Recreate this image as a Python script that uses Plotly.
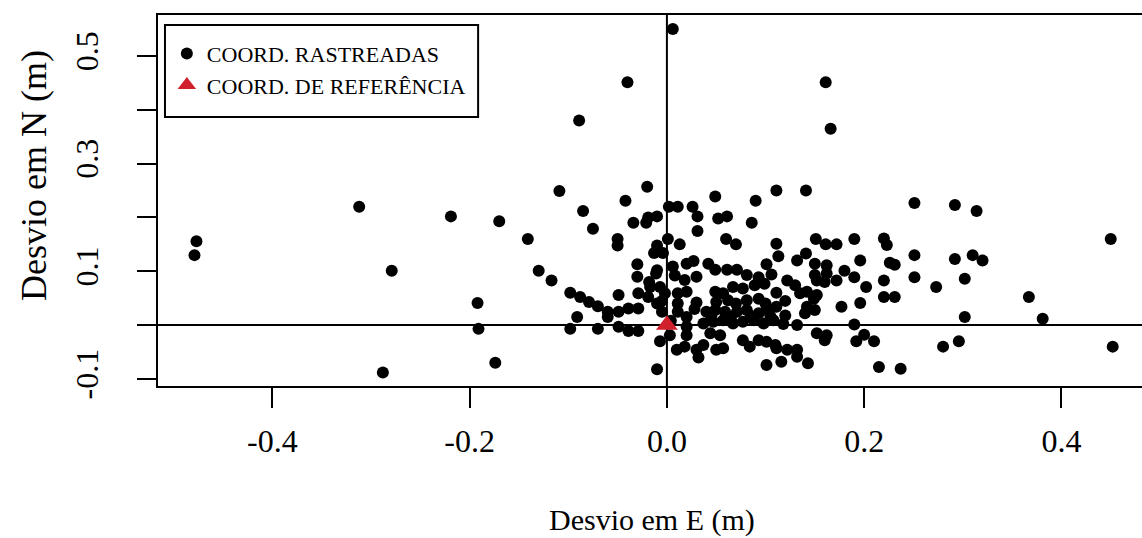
import plotly.graph_objects as go

# ---- data: deviations (m) ----
desvio_e = [
    -0.477, -0.479, -0.312, -0.219, -0.170, -0.141, -0.130, -0.279, -0.192, -0.191, -0.174, -0.288, -0.117,
    0.006, -0.040, -0.089, 0.161, 0.166,
    -0.109, -0.020, -0.042, -0.085, 0.002, 0.011, 0.026, -0.034, -0.021, -0.019, -0.010, 0.031, -0.075, 0.031,
    -0.050, -0.050, 0.001, 0.013, -0.010, -0.013, -0.004, -0.030, -0.010, 0.006, 0.020, 0.027,
    -0.030, -0.018, -0.011, 0.008, 0.018, 0.030,
    -0.017, -0.007, -0.029, -0.002, 0.011, 0.020, -0.049,
    -0.098, -0.088, -0.079, -0.070, -0.060, -0.060, -0.049, -0.039, -0.029, -0.091,
    -0.098, -0.070, -0.049, -0.039, -0.029,
    -0.010, -0.005, 0.011, 0.011, 0.020, 0.020, 0.020, -0.007, 0.003, 0.010, 0.018, 0.030, 0.032, -0.010, 0.028,
    0.004, -0.005, -0.019, 0.030,
    0.049, 0.111, 0.141, 0.090, 0.052, 0.061, 0.086, 0.060, 0.070, 0.111, 0.113, 0.151, 0.161, 0.172, 0.141,
    0.132, 0.150, 0.162, 0.101, 0.042, 0.049, 0.061, 0.071,
    0.081, 0.093, 0.106, 0.122, 0.150, 0.162,
    0.049, 0.057, 0.067, 0.077, 0.089, 0.099, 0.111, 0.130, 0.135, 0.142, 0.152,
    0.050, 0.062, 0.081, 0.093,
    0.040, 0.049, 0.059, 0.071, 0.081, 0.093, 0.101, 0.111, 0.142, 0.150, 0.140,
    0.037, 0.047, 0.057, 0.067, 0.077, 0.088, 0.098, 0.108, 0.118, 0.132,
    0.044, 0.054, 0.152, 0.162, 0.160,
    0.037, 0.077, 0.084, 0.093, 0.101, 0.110, 0.111, 0.050, 0.057, 0.122, 0.132,
    0.132, 0.116, 0.101, 0.143,
    0.160, 0.172, 0.149, 0.152,
    0.045, 0.065, 0.085, 0.105, 0.120, 0.070, 0.100, 0.120,
    0.251, 0.292, 0.314, 0.450, 0.190, 0.220, 0.223, 0.196, 0.226, 0.231, 0.251, 0.292, 0.310, 0.320,
    0.180, 0.190, 0.220, 0.251, 0.302, 0.273, 0.202, 0.220, 0.231, 0.196, 0.177, 0.367, 0.381, 0.302,
    0.190, 0.200, 0.192, 0.210, 0.280, 0.296, 0.452, 0.215, 0.237,
]
desvio_n = [
    0.156, 0.130, 0.220, 0.202, 0.193, 0.160, 0.101, 0.101, 0.041, -0.007, -0.070, -0.088, 0.083,
    0.550, 0.451, 0.380, 0.451, 0.365,
    0.249, 0.257, 0.231, 0.212, 0.220, 0.220, 0.220, 0.190, 0.190, 0.200, 0.202, 0.202, 0.179, 0.175,
    0.160, 0.148, 0.160, 0.150, 0.148, 0.134, 0.134, 0.113, 0.102, 0.109, 0.114, 0.119,
    0.090, 0.080, 0.096, 0.092, 0.084, 0.090,
    0.071, 0.071, 0.059, 0.059, 0.059, 0.062, 0.056,
    0.060, 0.052, 0.043, 0.035, 0.025, 0.015, 0.025, 0.031, 0.031, 0.015,
    -0.007, -0.007, -0.003, -0.011, -0.011,
    0.040, 0.025, 0.040, 0.025, 0.015, -0.003, -0.019, -0.030, -0.019, -0.046, -0.040, -0.046, -0.060, -0.082, 0.030,
    0.008, 0.045, 0.052, 0.042,
    0.239, 0.250, 0.250, 0.231, 0.198, 0.202, 0.190, 0.160, 0.150, 0.151, 0.128, 0.160, 0.150, 0.150, 0.133,
    0.120, 0.114, 0.111, 0.113, 0.114, 0.103, 0.103, 0.103,
    0.093, 0.089, 0.094, 0.083, 0.093, 0.096,
    0.062, 0.059, 0.071, 0.068, 0.074, 0.077, 0.060, 0.074, 0.059, 0.062, 0.056,
    0.043, 0.046, 0.046, 0.049,
    0.025, 0.028, 0.025, 0.025, 0.028, 0.022, 0.028, 0.034, 0.034, 0.028, 0.022,
    0.003, 0.006, 0.009, 0.003, 0.006, 0.009, 0.003, 0.009, 0.002, 0.000,
    -0.015, -0.019, -0.015, -0.019, -0.028,
    -0.037, -0.028, -0.040, -0.028, -0.031, -0.037, -0.043, -0.046, -0.043, -0.046, -0.046,
    -0.059, -0.068, -0.074, -0.071,
    0.080, 0.083, 0.049, 0.083,
    0.016, 0.015, 0.017, 0.016, 0.018, 0.040, 0.040, 0.045,
    0.227, 0.223, 0.212, 0.160, 0.160, 0.161, 0.149, 0.120, 0.116, 0.112, 0.130, 0.123, 0.130, 0.120,
    0.101, 0.089, 0.083, 0.089, 0.086, 0.071, 0.071, 0.052, 0.052, 0.041, 0.034, 0.052, 0.012, 0.015,
    0.001, -0.018, -0.030, -0.030, -0.040, -0.030, -0.040, -0.078, -0.081,
]
ref_e = [0.0]
ref_n = [0.0]

x_tick_vals = [-0.4, -0.2, 0.0, 0.2, 0.4]
x_tick_text = ["-0.4", "-0.2", "0.0", "0.2", "0.4"]
y_tick_vals = [-0.1, 0.0, 0.1, 0.2, 0.3, 0.4, 0.5]
y_tick_text = ["-0.1", "", "0.1", "", "0.3", "", "0.5"]

SERIF = "Liberation Serif, Times New Roman, serif"

fig = go.Figure()
fig.add_trace(go.Scatter(
    x=desvio_e, y=desvio_n, mode="markers", name="COORD. RASTREADAS",
    marker=dict(color="black", size=12, line=dict(width=0)),
))
fig.add_trace(go.Scatter(
    x=ref_e, y=ref_n, mode="markers", name="COORD. DE REFERÊNCIA",
    marker=dict(color="#d0202c", size=19, symbol="triangle-up", line=dict(width=0)),
))

# reference lines at zero
fig.add_shape(type="line", xref="x", yref="paper", x0=0, x1=0, y0=0, y1=1,
              line=dict(color="black", width=2), layer="below")
fig.add_shape(type="line", xref="paper", yref="y", x0=0, x1=1.02, y0=0, y1=0,
              line=dict(color="black", width=2), layer="below")
# plot frame (right side falls outside the picture)
fig.add_shape(type="rect", xref="paper", yref="paper", x0=0, x1=1.02, y0=0, y1=1,
              line=dict(color="black", width=2), layer="above")
# legend box
fig.add_shape(type="rect", xref="paper", yref="paper", x0=0.0081, x1=0.326, y0=0.724, y1=0.9705,
              line=dict(color="black", width=2), fillcolor="white", layer="above")

fig.add_annotation(text="Desvio em E (m)", xref="paper", yref="paper", x=0.503, y=-0.357,
                   showarrow=False, xanchor="center", yanchor="middle",
                   font=dict(family=SERIF, size=30, color="black"))
fig.add_annotation(text="Desvio em N (m)", xref="paper", yref="paper", x=-0.125, y=0.568,
                   showarrow=False, xanchor="center", yanchor="middle", textangle=-90,
                   font=dict(family=SERIF, size=36, color="black"))

fig.update_layout(
    width=1142, height=538,
    margin=dict(l=157, r=0, t=14, b=151),
    paper_bgcolor="white", plot_bgcolor="white",
    showlegend=True,
    legend=dict(x=0.010, y=0.950, xanchor="left", yanchor="top",
                bgcolor="rgba(0,0,0,0)", borderwidth=0,
                font=dict(family=SERIF, size=22, color="black"),
                tracegroupgap=0, itemsizing="trace"),
    xaxis=dict(range=[-0.517, 0.4817], showgrid=False, zeroline=False, showline=False,
               tickvals=x_tick_vals, ticktext=x_tick_text, ticks="outside", ticklen=20,
               tickwidth=2, tickcolor="black", ticklabelstandoff=6,
               tickfont=dict(family=SERIF, size=32, color="black")),
    yaxis=dict(range=[-0.115, 0.578], showgrid=False, zeroline=False, showline=False,
               tickvals=y_tick_vals, ticktext=y_tick_text, ticks="outside", ticklen=19,
               tickwidth=2, tickcolor="black", tickangle=-90, ticklabelstandoff=26,
               tickfont=dict(family=SERIF, size=32, color="black")),
)

fig.write_html("out.html")
